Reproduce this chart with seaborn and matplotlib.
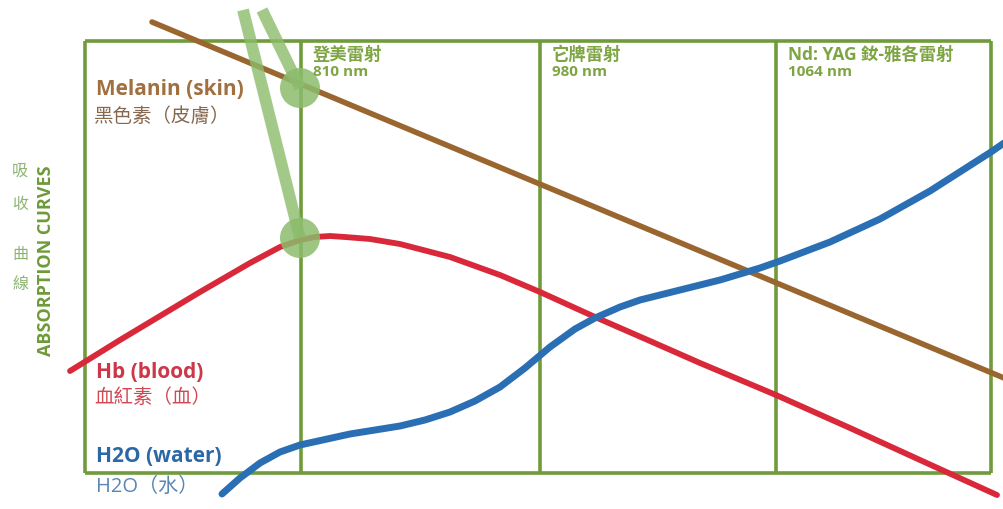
import numpy as np
import pandas as pd
import matplotlib
matplotlib.use("Agg")
import matplotlib.pyplot as plt
import seaborn as sns

sns.set_style("white")
plt.rcParams['font.family'] = ['Open Sans', 'Noto Sans CJK TC', 'DejaVu Sans']

# curve data (x, y in picture pixels, y downwards)
melanin_x = [152, 1004]
melanin_y = [22, 378]

hb_x = [70, 120, 150, 200, 250, 280, 300, 315, 330, 345, 370, 400, 450, 500,
        540, 595, 650, 700, 776, 850, 920, 997]
hb_y = [371, 340, 322, 292, 263, 247, 240, 237, 236, 237, 239, 244, 257, 275,
        292, 317, 341, 363, 395, 428, 460, 495]

h2o_x = [222, 240, 260, 280, 300, 350, 400, 425, 450, 475, 500, 525, 550, 575,
         595, 620, 640, 680, 720, 760, 780, 830, 880, 930, 991, 1004]
h2o_y = [494, 478, 463, 452, 445, 434, 426, 420, 412, 401, 387, 368, 347, 329,
         318, 307, 300, 290, 280, 268, 261, 242, 219, 191, 152, 143]

# laser columns
col_edges = [85, 301, 540, 776, 991]
laser_names = ['登美雷射', '它牌雷射', 'Nd: YAG 釹-雅各雷射']
laser_nm = ['810 nm', '980 nm', '1064 nm']

# pointer (green) lines and markers at 810 nm
pointer_top_x = [243, 262]
pointer_top_y = [10, 10]
pointer_end_x = [300, 300]
pointer_end_y = [238, 88]

frame_c = '#6f9b3c'
head_c = '#7ea543'
brown = '#9a6630'
red = '#d8283a'
blue = '#2a6fb3'
pointer_c = '#8cbc6c'

fig = plt.figure(figsize=(10.04, 5.09), dpi=100)
ax = fig.add_axes([0, 0, 1, 1])

# frame
ax.vlines(col_edges, 41, 473, color=frame_c, lw=2.6, zorder=1)
ax.hlines([41, 473], col_edges[0], col_edges[-1], color=frame_c, lw=2.6, zorder=1)

df_mel = pd.DataFrame({'x': melanin_x, 'y': melanin_y})
df_hb = pd.DataFrame({'x': hb_x, 'y': hb_y})
df_h2o = pd.DataFrame({'x': h2o_x, 'y': h2o_y})

sns.lineplot(data=df_mel, x='x', y='y', ax=ax, color=brown, lw=4, sort=False,
             solid_capstyle='round', zorder=3)
sns.lineplot(data=df_hb, x='x', y='y', ax=ax, color=red, lw=4.2, sort=False,
             solid_capstyle='round', solid_joinstyle='round', zorder=3)
sns.lineplot(data=df_h2o, x='x', y='y', ax=ax, color=blue, lw=5, sort=False,
             solid_capstyle='round', solid_joinstyle='round', zorder=3)
ax.set_xlim(0, 1004)
ax.set_ylim(509, 0)
ax.axis('off')

# pointer lines + circles
for x0, y0, x1, y1 in zip(pointer_top_x, pointer_top_y, pointer_end_x, pointer_end_y):
    ax.plot([x0, x1], [y0, y1], color=pointer_c, lw=8.5, alpha=0.8, zorder=4,
            solid_capstyle='butt')
ax.scatter(pointer_end_x, pointer_end_y, s=830, color=pointer_c, alpha=0.85,
           edgecolor='none', zorder=5)

# column headers
for i in range(3):
    ax.text(col_edges[i + 1] + 12, 55, laser_names[i], color=head_c, fontsize=12.5,
            va='center', ha='left', fontweight='bold', zorder=6)
    ax.text(col_edges[i + 1] + 12, 72, laser_nm[i], color=head_c, fontsize=11,
            va='center', ha='left', fontweight='bold', zorder=6)

# curve labels
ax.text(96, 89, 'Melanin (skin)', color='#a07040', fontsize=15, fontweight='bold',
        va='center', ha='left')
ax.text(94, 117, '黑色素（皮膚）', color='#86684e', fontsize=14, va='center', ha='left')
ax.text(96, 373, 'Hb (blood)', color='#cc3848', fontsize=15, fontweight='bold',
        va='center', ha='left')
ax.text(94, 398, '血紅素（血）', color='#d04a55', fontsize=14, va='center', ha='left')
ax.text(96, 456, 'H2O (water)', color='#2d68a6', fontsize=15, fontweight='bold',
        va='center', ha='left', zorder=6)
ax.text(96, 487, 'H2O（水）', color='#5a86b4', fontsize=14.5, va='center', ha='left')

# side title
ax.text(46, 261, 'ABSORPTION CURVES', color='#6e9a38', fontsize=13, fontweight='bold',
        rotation=90, va='center', ha='center')
side_chars = ['吸', '收', '曲', '線']
side_y = [172, 205, 255, 285]
for ch, yy in zip(side_chars, side_y):
    ax.text(20, yy, ch, color='#8db472', fontsize=11.5, va='center', ha='center')

fig.savefig('out.png', dpi=100)
